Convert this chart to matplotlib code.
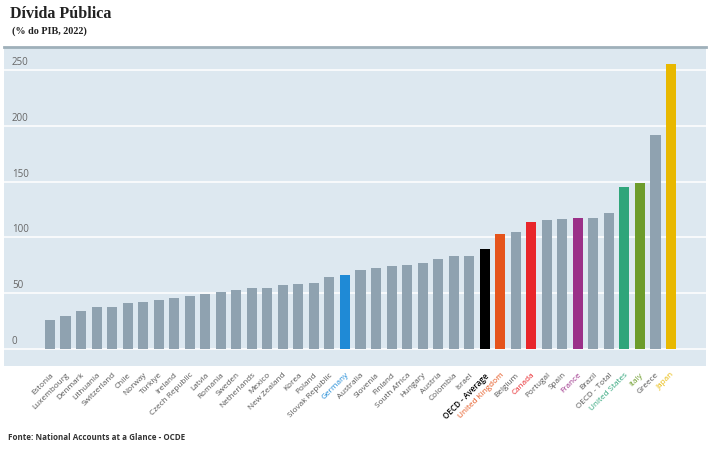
import matplotlib
matplotlib.use("Agg")
import matplotlib.pyplot as plt
import matplotlib.transforms as mtransforms

countries = ["Estonia", "Luxembourg", "Denmark", "Lithuania", "Switzerland", "Chile",
             "Norway", "Türkiye", "Ireland", "Czech Republic", "Latvia", "Romania",
             "Sweden", "Netherlands", "Mexico", "New Zealand", "Korea", "Poland",
             "Slovak Republic", "Germany", "Australia", "Slovenia", "Finland",
             "South Africa", "Hungary", "Austria", "Colombia", "Israel",
             "OECD - Average", "United Kingdom", "Belgium", "Canada", "Portugal",
             "Spain", "France", "Brazil", "OECD - Total", "United States", "Italy",
             "Greece", "Japan"]
values = [25.7, 29.3, 34.4, 38.0, 38.0, 41.6, 42.5, 43.7, 46.1, 47.9, 49.7, 51.5,
          53.3, 54.5, 54.5, 56.9, 58.1, 59.3, 64.4, 65.9, 70.4, 72.2, 74.6, 75.1,
          77.2, 80.8, 83.2, 83.2, 89.8, 103.3, 105.1, 113.8, 115.6, 116.5, 117.7,
          117.7, 121.5, 145.0, 148.8, 192.2, 255.4]
highlight = {"Germany": "#1f8ad6", "OECD - Average": "#000000",
             "United Kingdom": "#e5541c", "Canada": "#e8262b", "France": "#9b3088",
             "United States": "#2fa57a", "Italy": "#6d9c2b", "Japan": "#e8b800"}
yticks = [0, 50, 100, 150, 200, 250]

base_color = "#8fa2b0"
bar_colors = [highlight.get(c, base_color) for c in countries]

W, H = 709, 451
fig = plt.figure(figsize=(W / 100, H / 100), dpi=100)
fig.patch.set_facecolor("white")

# axes panel in pixels
px0, px1, py_top, py_bot = 4, 706, 47, 366
ax = fig.add_axes([px0 / W, 1 - py_bot / H, (px1 - px0) / W, (py_bot - py_top) / H])
ax.set_facecolor("#dde8f0")

x = list(range(len(countries)))
ax.bar(x, values, width=0.65, color=bar_colors, zorder=3)

spacing = (671 - 50) / 40
ax.set_xlim((px0 - 50) / spacing, (px1 - 50) / spacing)
ppu = (349 - 70) / 250
ax.set_ylim((349 - py_bot) / ppu, (349 - py_top) / ppu)

for v in yticks:
    ax.axhline(v, color="white", lw=1.1, zorder=1)
ax.set_yticks([])
trans = mtransforms.offset_copy(ax.get_yaxis_transform(), fig=fig, x=0, y=2, units="dots")
for v in yticks:
    ax.text((12 - px0) / (px1 - px0), v, str(v), transform=trans, ha="left", va="bottom",
            fontsize=7, color="#666666", family="Open Sans")

ax.set_xticks(x)
ax.set_xticklabels(countries, rotation=45, ha="right", rotation_mode="anchor",
                   fontsize=5.9, family="Open Sans", color="#555555")
for lab, c in zip(ax.get_xticklabels(), countries):
    if c in highlight:
        lab.set_color(highlight[c])
    if c == "OECD - Average":
        lab.set_fontweight("semibold")
ax.tick_params(axis="x", length=0, pad=4)

for s in ["left", "right", "bottom"]:
    ax.spines[s].set_visible(False)
ax.spines["top"].set_color("#9fb0ba")
ax.spines["top"].set_linewidth(2)

fig.text(10 / W, 1 - 14 / H, "Dívida Pública", fontsize=11.5, fontweight="bold",
         family="Liberation Serif", va="center", ha="left", color="#222222")
fig.text(12 / W, 1 - 31 / H, "(% do PIB, 2022)", fontsize=7.3, fontweight="bold",
         family="Liberation Serif", va="center", ha="left", color="#222222")
fig.text(8 / W, 1 - 437 / H, "Fonte: National Accounts at a Glance - OCDE", fontsize=5.8,
         fontweight="bold", family="Open Sans", va="center", ha="left", color="#333333")

fig.savefig("out.png", dpi=100)
